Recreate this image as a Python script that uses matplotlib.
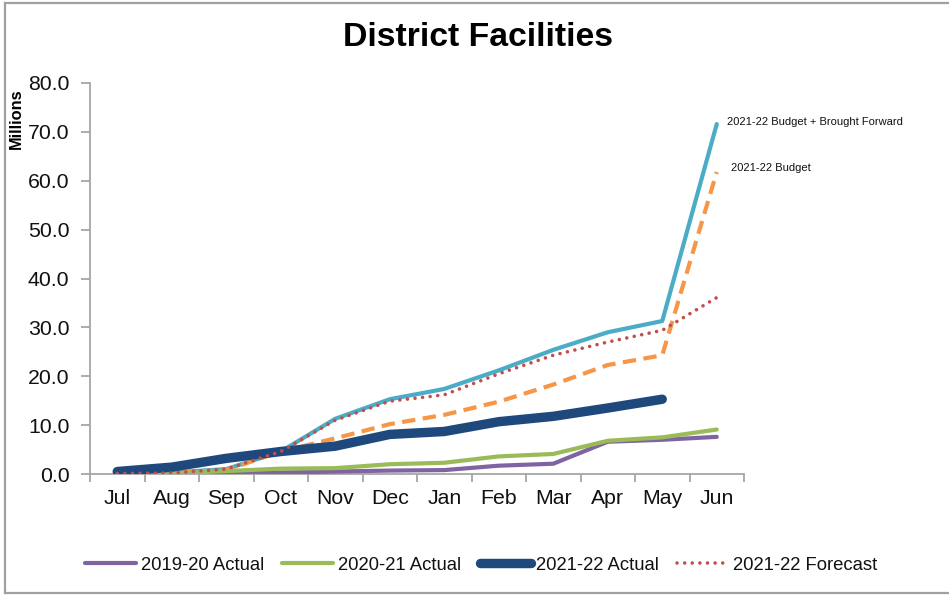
import matplotlib
matplotlib.use("Agg")
import matplotlib.pyplot as plt
from matplotlib.lines import Line2D

months = ["Jul", "Aug", "Sep", "Oct", "Nov", "Dec", "Jan", "Feb", "Mar", "Apr", "May", "Jun"]
actual_1920 = [0.0, 0.0, 0.1, 0.3, 0.5, 0.7, 0.8, 1.7, 2.1, 6.6, 7.0, 7.6]
actual_2021 = [0.0, 0.1, 0.6, 1.1, 1.2, 2.0, 2.3, 3.6, 4.1, 6.8, 7.5, 9.1]
actual_2122 = [0.5, 1.4, 3.2, 4.6, 5.7, 8.1, 8.7, 10.7, 11.8, 13.5, 15.3]
forecast_2122 = [0.1, 0.2, 1.0, 4.6, 11.0, 14.9, 16.2, 20.5, 24.3, 27.0, 29.4, 36.1]
budget_2122 = [0.1, 0.2, 0.8, 4.6, 7.3, 10.2, 12.1, 14.8, 18.3, 22.3, 24.3, 61.8]
budget_bf_2122 = [0.2, 0.3, 1.0, 4.6, 11.3, 15.3, 17.4, 21.2, 25.4, 29.0, 31.3, 71.6]

labels = ["2019-20 Actual", "2020-21 Actual", "2021-22 Actual", "2021-22 Forecast"]
annot_bf = "2021-22 Budget + Brought Forward"
annot_b = "2021-22 Budget"
title = "District Facilities"
ylabel = "Millions"

plt.rcParams['font.family'] = ['Liberation Sans', 'DejaVu Sans']

W, H = 949, 597
fig = plt.figure(figsize=(W / 100, H / 100), dpi=100)
ax = fig.add_axes([90 / W, 1 - 474 / H, (744 - 90) / W, (474 - 83) / H])

x = list(range(len(months)))
purple, green, navy = "#8064A2", "#9BBB59", "#1F497D"
cyan, orange, red = "#4BACC6", "#F79646", "#C0504D"

ax.plot(x, budget_bf_2122, color=cyan, lw=3.0, solid_capstyle='round', zorder=2)
ax.plot(x, budget_2122, color=orange, lw=3.0, linestyle=(0, (3.2, 1.8)), zorder=3)
l1, = ax.plot(x, actual_1920, color=purple, lw=3.0, solid_capstyle='round', zorder=4)
l2, = ax.plot(x, actual_2021, color=green, lw=3.0, solid_capstyle='round', zorder=5)
l3, = ax.plot(x[:len(actual_2122)], actual_2122, color=navy, lw=6.8,
              solid_capstyle='round', solid_joinstyle='round', zorder=6)
l4, = ax.plot(x, forecast_2122, color=red, lw=2.6, linestyle=(0, (0.01, 2.1)),
              dash_capstyle='round', zorder=7)

ax.annotate(annot_bf, xy=(x[-1], budget_bf_2122[-1]), xytext=(7.5, 1.5),
            textcoords='offset points', fontsize=8.0, va='center', ha='left',
            color='#111111', annotation_clip=False)
ax.annotate(annot_b, xy=(x[-1], budget_2122[-1]), xytext=(10.5, 3),
            textcoords='offset points', fontsize=8.0, va='center', ha='left',
            color='#111111', annotation_clip=False)

ax.set_xlim(-0.5, 11.5)
ax.set_ylim(0, 80)
ax.set_yticks(range(0, 81, 10))
ax.set_yticklabels([f"{v:.1f}" for v in range(0, 81, 10)])
ax.set_xticks(x)
ax.set_xticklabels(months)
ax.set_xticks([i - 0.5 for i in range(len(months) + 1)], minor=True)

grey = "#A6A6A6"
for s in ["top", "right"]:
    ax.spines[s].set_visible(False)
for s in ["left", "bottom"]:
    ax.spines[s].set_color(grey)
    ax.spines[s].set_linewidth(1.3)

ax.tick_params(axis='y', direction='out', length=6.8, width=1.3, color=grey,
               labelsize=15.3, pad=8, labelcolor='#111111')
ax.tick_params(axis='x', which='major', length=0, labelsize=15.3, pad=11,
               labelcolor='#111111')
ax.tick_params(axis='x', which='minor', direction='out', length=5.5, width=1.3,
               color=grey)

fig.text(478 / W, 1 - 37 / H, title, fontsize=24.3, fontweight='bold',
         ha='center', va='center', color='black')
fig.text(16 / W, 1 - 119 / H, ylabel, fontsize=11.8, fontweight='bold',
         rotation=90, ha='center', va='center', color='black')

leg = fig.legend([l1, l2, l3, l4], labels, loc='center', ncol=4,
                 bbox_to_anchor=(481 / W, 1 - 565 / H), frameon=False,
                 fontsize=13.3, handlelength=2.75, handletextpad=0.27,
                 columnspacing=1.0, labelcolor='#111111')

# figure border (left, top, bottom)
bc = "#A0A0A0"
fig.add_artist(Line2D([5 / W, 5 / W], [1 - 3 / H, 1 - 593 / H], color=bc, lw=1.6))
fig.add_artist(Line2D([5 / W, 1.0], [1 - 3 / H, 1 - 3 / H], color=bc, lw=1.6))
fig.add_artist(Line2D([5 / W, 1.0], [1 - 593 / H, 1 - 593 / H], color=bc, lw=1.6))

fig.savefig("out.png", dpi=100)
